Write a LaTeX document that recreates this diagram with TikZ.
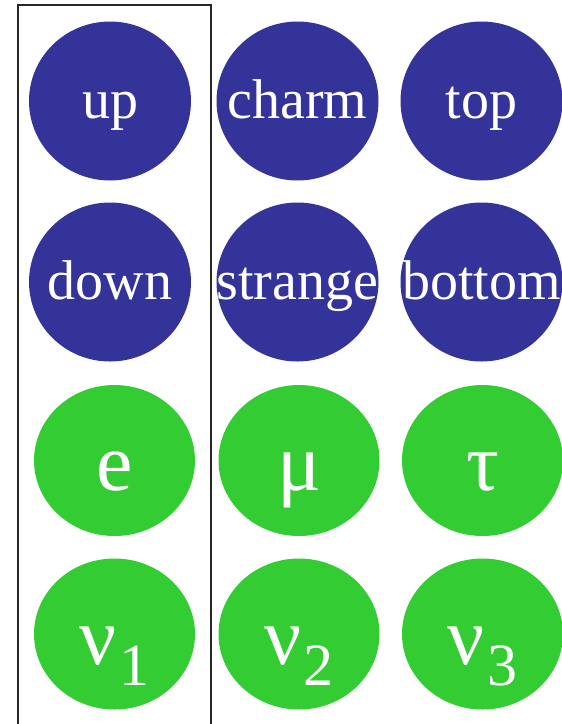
\documentclass[tikz,border=0pt]{standalone}
\usepackage{fontspec}
\setmainfont{Liberation Serif}
\newfontfamily\tnr{Liberation Serif}
\usetikzlibrary{shapes.geometric}
\definecolor{quarkblue}{HTML}{333399}
\definecolor{leptongreen}{HTML}{33CC33}
\tikzset{
  quark/.style={ellipse, fill=quarkblue, draw=none, inner sep=0pt, minimum width=162pt, minimum height=159pt},
  lepton/.style={ellipse, fill=leptongreen, draw=none, inner sep=0pt, minimum width=161pt, minimum height=151pt},
  qlabel/.style={inner sep=0pt, text=white, font=\tnr\fontsize{56}{56}\selectfont, text height=34pt, text depth=0pt},
  llabel/.style={inner sep=0pt, text=white, font=\tnr\fontsize{82}{82}\selectfont, text height=60pt, text depth=0pt},
  frame/.style={draw=black!85, line width=1.3pt}
}
\newcommand{\nusub}[1]{ν\hspace{2pt}\raisebox{-21pt}{\fontsize{60}{60}\selectfont #1}}
\begin{document}
\begin{tikzpicture}[x=1pt,y=-1pt]
\useasboundingbox (0,0) rectangle (562,724);
\fill[white] (0,0) rectangle (562,724);
\draw[frame] (18,5) -- (211,5) -- (211,740) -- (18,740) -- cycle;
\node[quark] (up) at (110,101) {};
\node[quark] (charm) at (297.5,101) {};
\node[quark] (top) at (481.5,101) {};
\node[quark] (down) at (110,282) {};
\node[quark] (strange) at (297.5,282) {};
\node[quark] (bottom) at (481.5,282) {};
\node[lepton] (e) at (114.5,460.5) {};
\node[lepton] (mu) at (299,460.5) {};
\node[lepton] (tau) at (482.5,460.5) {};
\node[lepton] (nu1) at (114.5,634) {};
\node[lepton] (nu2) at (299,634) {};
\node[lepton] (nu3) at (482.5,634) {};
\node[qlabel] (upT) at (up) {up};
\node[qlabel] (charmT) at (charm) {charm};
\node[qlabel] (topT) at (top) {top};
\node[qlabel] (downT) at (down) {down};
\node[qlabel] (strangeT) at (strange) {strange};
\node[qlabel] (bottomT) at (bottom) {bottom};
\node[llabel] (eT) at (e) {e};
\node[llabel] (muT) at (mu) {μ};
\node[llabel] (tauT) at (tau) {τ};
\node[llabel] (nu1T) at (nu1) {\nusub{1}};
\node[llabel] (nu2T) at (nu2) {\nusub{2}};
\node[llabel] (nu3T) at (nu3) {\nusub{3}};
\end{tikzpicture}
\end{document}
